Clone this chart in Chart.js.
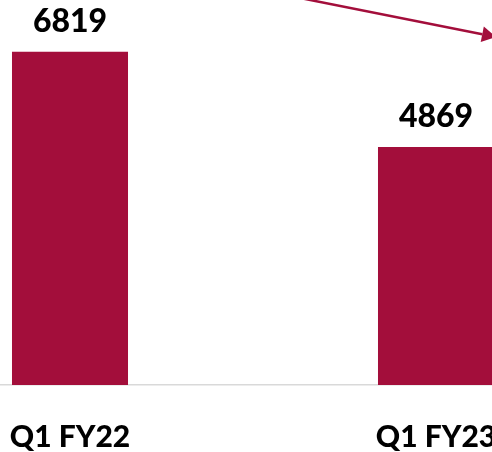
<!DOCTYPE html>
<html>
<head>
<meta charset="utf-8">
<script src="https://cdn.jsdelivr.net/npm/chart.js@4"></script>
<style>
  html, body { margin: 0; padding: 0; background: #fff; overflow: hidden; width: 492px; height: 452px; }
  #wrap { position: absolute; left: -113px; top: 0; width: 732px; height: 452px; }
</style>
</head>
<body>
<div id="wrap"><canvas id="c"></canvas></div>
<script>
const categories = ['Q1 FY22', 'Q1 FY23'];
const revenue = [6819, 4869];
const barColor = '#A30E3B';

const valueLabels = {
  id: 'valueLabels',
  afterDatasetsDraw(chart) {
    const ctx = chart.ctx;
    const meta = chart.getDatasetMeta(0);
    ctx.save();
    ctx.font = '900 32px Lato';
    ctx.fillStyle = '#000';
    ctx.textAlign = 'center';
    ctx.textBaseline = 'alphabetic';
    meta.data.forEach((bar, i) => {
      ctx.fillText(String(revenue[i]), bar.x, bar.y - 20);
    });
    ctx.restore();
  }
};

const trendArrow = {
  id: 'trendArrow',
  afterDatasetsDraw(chart) {
    const ctx = chart.ctx;
    const meta = chart.getDatasetMeta(0);
    const b1 = meta.data[0], b2 = meta.data[1];
    const x1 = b1.x + 200, y1 = -8;
    const x2 = b2.x + 60, y2 = 37;
    const ang = Math.atan2(y2 - y1, x2 - x1);
    const headLen = 14, headW = 8;
    ctx.save();
    ctx.strokeStyle = barColor;
    ctx.fillStyle = barColor;
    ctx.lineWidth = 2.5;
    ctx.beginPath();
    ctx.moveTo(x1, y1);
    ctx.lineTo(x2 - headLen * Math.cos(ang), y2 - headLen * Math.sin(ang));
    ctx.stroke();
    ctx.beginPath();
    ctx.moveTo(x2, y2);
    ctx.lineTo(x2 - headLen * Math.cos(ang) + headW * Math.sin(ang), y2 - headLen * Math.sin(ang) - headW * Math.cos(ang));
    ctx.lineTo(x2 - headLen * Math.cos(ang) - headW * Math.sin(ang), y2 - headLen * Math.sin(ang) + headW * Math.cos(ang));
    ctx.closePath();
    ctx.fill();
    ctx.restore();
  }
};

new Chart(document.getElementById('c'), {
  type: 'bar',
  data: {
    labels: categories,
    datasets: [{
      data: revenue,
      backgroundColor: barColor,
      borderWidth: 0,
      barPercentage: 0.317,
      categoryPercentage: 1
    }]
  },
  options: {
    responsive: true,
    maintainAspectRatio: false,
    animation: false,
    layout: { padding: { top: 43, left: 0, right: 0, bottom: 0 } },
    plugins: { legend: { display: false }, tooltip: { enabled: false } },
    scales: {
      x: {
        grid: { display: false, drawTicks: false },
        border: { display: true, color: '#D9D9D9', width: 1.5 },
        ticks: { color: '#000', font: { family: 'Lato', size: 30, weight: '900' }, padding: 34 },
        afterFit(scale) { scale.height = 67; }
      },
      y: {
        display: false,
        min: 0,
        max: 7000
      }
    }
  },
  plugins: [valueLabels, trendArrow]
});
</script>
</body>
</html>
